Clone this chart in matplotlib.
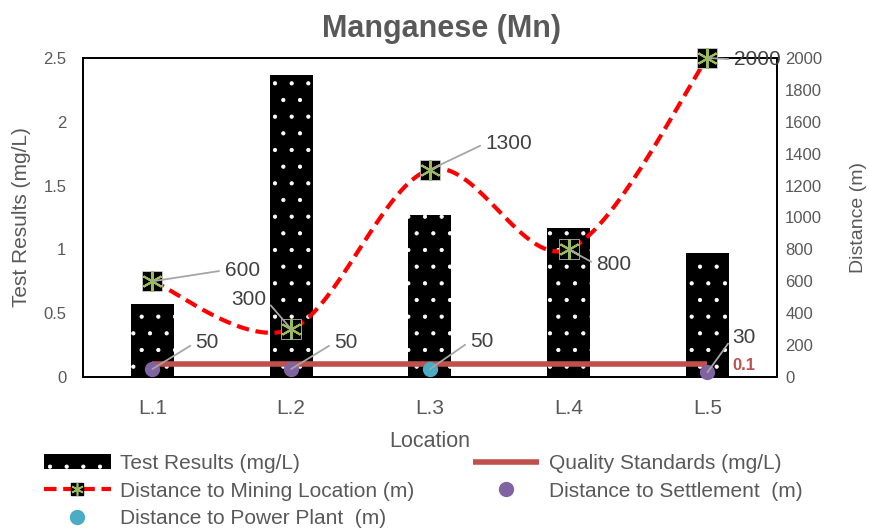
import numpy as np
import matplotlib.pyplot as plt
from matplotlib.lines import Line2D

plt.rcParams['font.family'] = ['Liberation Sans', 'DejaVu Sans']
plt.rcParams['hatch.linewidth'] = 0.6

# data
lokasi = ['L.1', 'L.2', 'L.3', 'L.4', 'L.5']
hasil_uji = [0.57, 2.37, 1.27, 1.17, 0.97]          # mg/L
baku_mutu = [0.1, 0.1, 0.1, 0.1, 0.1]               # mg/L
jarak_tambang = [600, 300, 1300, 800, 2000]         # m
jarak_pemukiman = [50, 50, None, None, 30]          # m
jarak_pltu = [None, None, 50, None, None]           # m

abu = '#595959'
teks = '#404040'
x = np.arange(len(lokasi))

fig = plt.figure(figsize=(8.69, 5.29), dpi=100)
ax = fig.add_axes([0.0955, 0.2873, 0.7985, 0.6031])
ax2 = ax.twinx()

# batang hasil uji
bars = ax.bar(x, hasil_uji, width=0.31, color='black', edgecolor='white',
              hatch='.', linewidth=0, label='Test Results (mg/L)', zorder=2)
ln_bm, = ax.plot(x, baku_mutu, color='#C0504D', lw=4, solid_capstyle='butt',
                 label='Quality Standards (mg/L)', zorder=3)
ax.set_xlim(-0.5, 4.5)
ax.set_ylim(0, 2.5)
ax.set_yticks(np.arange(0, 2.51, 0.5))
ax.set_yticklabels(['0', '0.5', '1', '1.5', '2', '2.5'])
ax.set_xticks(x)
ax.set_xticklabels(lokasi)
ax.annotate('0.1', (x[-1], baku_mutu[-1]), xytext=(18, -1), textcoords='offset points',
            color='#C0504D', fontsize=12, fontweight='bold', va='center', ha='left')

# garis halus (mirip smoothing excel)
def halus(xs, ys, n=40):
    xs = np.asarray(xs, float)
    ys = np.asarray(ys, float)
    px, py = [], []
    for i in range(len(xs) - 1):
        i0 = max(i - 1, 0)
        i3 = min(i + 2, len(xs) - 1)
        c1x = xs[i] + (xs[i + 1] - xs[i0]) / 6
        c1y = ys[i] + (ys[i + 1] - ys[i0]) / 6
        c2x = xs[i + 1] - (xs[i3] - xs[i]) / 6
        c2y = ys[i + 1] - (ys[i3] - ys[i]) / 6
        t = np.linspace(0, 1, n)
        px += list((1 - t)**3 * xs[i] + 3 * (1 - t)**2 * t * c1x + 3 * (1 - t) * t**2 * c2x + t**3 * xs[i + 1])
        py += list((1 - t)**3 * ys[i] + 3 * (1 - t)**2 * t * c1y + 3 * (1 - t) * t**2 * c2y + t**3 * ys[i + 1])
    return px, py

sx, sy = halus(x, jarak_tambang)
ax2.plot(sx, sy, color='#FF0000', lw=3, ls=(0, (3, 1.6)), zorder=3)
ax2.plot(x, jarak_tambang, ls='none', marker='s', ms=14, mfc='black',
         mec='#D9D9D9', mew=0.5, zorder=4, clip_on=False)
ax2.plot(x, jarak_tambang, ls='none', marker=(6, 2, 0), ms=15, mec='#9BBB59',
         mew=1.5, zorder=5, clip_on=False)
# handle legenda tambang
h_tambang = (Line2D([], [], color='#FF0000', lw=3, ls=(0, (3, 1.6))),
             Line2D([], [], ls='none', marker='s', ms=9, mfc='black', mec='black'),
             Line2D([], [], ls='none', marker=(6, 2, 0), ms=9, mec='#9BBB59', mew=1.2))

pm_x = [i for i, v in enumerate(jarak_pemukiman) if v is not None]
pm_y = [v for v in jarak_pemukiman if v is not None]
pl_x = [i for i, v in enumerate(jarak_pltu) if v is not None]
pl_y = [v for v in jarak_pltu if v is not None]
h_pm, = ax2.plot(pm_x, pm_y, ls='none', marker='o', ms=10, color='#8064A2',
                 label='Distance to Settlement  (m)', zorder=6, clip_on=False)
h_pl, = ax2.plot(pl_x, pl_y, ls='none', marker='o', ms=10, color='#4BACC6',
                 label='Distance to Power Plant  (m)', zorder=6, clip_on=False)
ax2.set_ylim(0, 2000)
ax2.set_yticks(np.arange(0, 2001, 200))

# label data
garis = dict(arrowstyle='-', color='#A6A6A6', lw=1.3, shrinkA=2, shrinkB=0)
lbl_tambang = [(52, 8), (-18, 21), (40, 19), (20, -11), (19, -1)]
for xi, v, off in zip(x, jarak_tambang, lbl_tambang):
    ha = 'right' if off[0] < 0 else 'left'
    ax2.annotate(str(v), (xi, v), xytext=off, textcoords='offset points',
                 fontsize=15, color=teks, ha=ha, va='center',
                 arrowprops=dict(garis, relpos=(1 if ha == 'right' else 0, 0.5)),
                 zorder=7, annotation_clip=False)
lbl_lain = list(zip(pm_x, pm_y, [(31, 19), (31, 19), (18, 25)])) + \
    list(zip(pl_x, pl_y, [(29, 20)]))
for xi, v, off in lbl_lain:
    ax2.annotate(str(v), (xi, v), xytext=off, textcoords='offset points',
                 fontsize=15, color=teks, ha='left', va='center',
                 arrowprops=dict(garis, relpos=(0, 0.5)), zorder=7)

for a in (ax, ax2):
    for s in a.spines.values():
        s.set_color('black')
        s.set_linewidth(1.3)
    a.tick_params(length=0, labelsize=12, colors=abu)
ax.tick_params(axis='y', pad=12)
ax2.tick_params(axis='y', pad=6)
ax.tick_params(axis='x', labelsize=15, pad=16)
ax.set_ylabel('Test Results (mg/L)', fontsize=15, color=abu, labelpad=9)
ax2.set_ylabel('Distance (m)', fontsize=14, color=abu, labelpad=20)
ax.set_xlabel('Location', fontsize=15.5, color=abu, labelpad=9)
fig.text(0.508, 0.946, 'Manganese (Mn)', fontsize=22, fontweight='bold',
         color=abu, ha='center', va='center')

handles = [bars, h_tambang, h_pl, ln_bm, h_pm]
labels = ['Test Results (mg/L)', 'Distance to Mining Location (m)',
          'Distance to Power Plant  (m)', 'Quality Standards (mg/L)',
          'Distance to Settlement  (m)']
fig.legend(handles, labels, loc='upper left', bbox_to_anchor=(44 / 869, 0.142),
           ncol=2, frameon=False, fontsize=15, labelcolor=abu,
           borderpad=0, borderaxespad=0, columnspacing=2.8, handlelength=3.2,
           handletextpad=0.45, labelspacing=0.42)

fig.savefig('out.png', dpi=100)
